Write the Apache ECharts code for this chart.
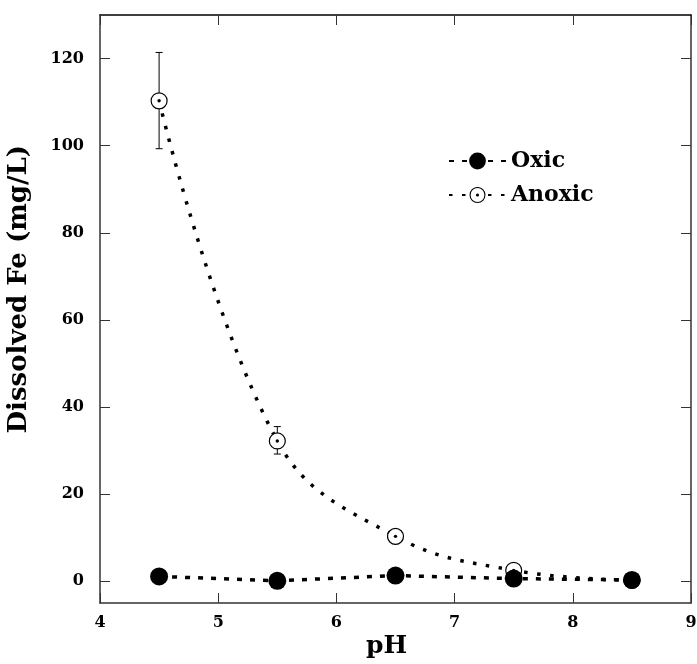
<!DOCTYPE html>
<html>
<head>
<meta charset="utf-8">
<script src="https://cdn.jsdelivr.net/npm/echarts@6/dist/echarts.min.js"></script>
<style>
  html, body { margin: 0; padding: 0; background: #fff; }
  #main { width: 697px; height: 664px; }
</style>
</head>
<body>
<div id="main"></div>
<script>
// pH points
var phValues = [4.5, 5.5, 6.5, 7.5, 8.5]
// dissolved Fe (mg/L)
var oxicFe = [1.1, 0.1, 1.3, 0.6, 0.3]
var anoxicFe = [110.3, 32.2, 10.3, 2.5, 0.2]
// anoxic error bars (low, high)
var anoxicLow = [99.3, 29.2, 9.3, 2.0, 0.1]
var anoxicHigh = [121.4, 35.5, 11.3, 3.0, 0.3]
// tick labels
var xTicks = [4, 5, 6, 7, 8, 9]
var yTicks = [0, 20, 40, 60, 80, 100, 120]

var fontFam = '"DejaVu Serif", serif'
var axisColor = '#333'

// open circle with a dot in the middle
var openCircle = 'image://data:image/svg+xml;utf8,' + encodeURIComponent(
  '<svg xmlns="http://www.w3.org/2000/svg" width="36" height="36" viewBox="0 0 36 36">' +
  '<circle cx="18" cy="18" r="16" fill="#fff" stroke="#000" stroke-width="2.4"/>' +
  '<circle cx="18" cy="18" r="3.4" fill="#000"/></svg>')

function pairs (xs, ys) {
  return xs.map(function (x, i) { return [x, ys[i]] })
}

var errData = phValues.map(function (x, i) { return [x, anoxicLow[i], anoxicHigh[i]] })

var chart = echarts.init(document.getElementById('main'))
var option = {
  animation: false,
  grid: { left: 100, right: 6, top: 15, bottom: 61, outerBoundsMode: 'none' },
  legend: {
    data: ['Oxic', 'Anoxic'],
    orient: 'vertical',
    left: 443,
    top: 145,
    itemWidth: 57,
    itemHeight: 21,
    itemGap: 12,
    textStyle: { fontFamily: fontFam, fontWeight: 'bold', fontSize: 22, color: '#000' }
  },
  xAxis: [
    {
      type: 'value', min: 4, max: 9, interval: 1,
      axisLine: { show: true, onZero: false, lineStyle: { color: axisColor, width: 1.5 } },
      axisTick: { show: true, inside: true, length: 10, lineStyle: { color: axisColor, width: 1 } },
      axisLabel: {
        margin: 12, color: '#000', fontFamily: fontFam, fontWeight: 'bold', fontSize: 16,
        formatter: function (v) { return xTicks.indexOf(v) >= 0 ? String(v) : '' }
      },
      splitLine: { show: false }
    },
    {
      type: 'value', min: 4, max: 9, interval: 1, position: 'top',
      axisLine: { show: true, onZero: false, lineStyle: { color: '#000', width: 1.5 } },
      axisTick: { show: true, inside: true, length: 10, lineStyle: { color: axisColor, width: 1 } },
      axisLabel: { show: false },
      splitLine: { show: false }
    }
  ],
  yAxis: [
    {
      type: 'value', min: -5, max: 130,
      axisLine: { show: true, onZero: false, lineStyle: { color: axisColor, width: 1.5 } },
      axisTick: { show: true, inside: true, length: 10, customValues: yTicks, lineStyle: { color: axisColor, width: 1 } },
      axisLabel: {
        margin: 16, color: '#000', fontFamily: fontFam, fontWeight: 'bold', fontSize: 16,
        customValues: yTicks
      },
      splitLine: { show: false }
    },
    {
      type: 'value', min: -5, max: 130, position: 'right',
      axisLine: { show: true, onZero: false, lineStyle: { color: axisColor, width: 1.5 } },
      axisTick: { show: true, inside: true, length: 10, customValues: yTicks, lineStyle: { color: axisColor, width: 1 } },
      axisLabel: { show: false },
      splitLine: { show: false }
    }
  ],
  graphic: [
    {
      type: 'text', left: 6, top: 145,
      rotation: Math.PI / 2,
      style: {
        text: 'Dissolved Fe (mg/L)', fill: '#000',
        font: 'bold 26px ' + fontFam
      }
    },
    {
      type: 'text', left: 366, top: 634,
      style: { text: 'pH', fill: '#000', font: 'bold 25px ' + fontFam }
    }
  ],
  series: [
    {
      name: 'Oxic',
      type: 'line',
      data: pairs(phValues, oxicFe),
      symbol: 'circle',
      symbolSize: 18,
      itemStyle: { color: '#000' },
      lineStyle: { color: '#000', width: 3.5, type: [5, 8] },
      z: 3
    },
    {
      name: 'AnoxicErr',
      type: 'custom',
      data: errData,
      renderItem: function (params, api) {
        var top = api.coord([api.value(0), api.value(2)])
        var bot = api.coord([api.value(0), api.value(1)])
        var cap = 3.5
        var st = { stroke: '#000', lineWidth: 1 }
        return {
          type: 'group',
          children: [
            { type: 'line', shape: { x1: top[0], y1: top[1], x2: bot[0], y2: bot[1] }, style: st },
            { type: 'line', shape: { x1: top[0] - cap, y1: top[1], x2: top[0] + cap, y2: top[1] }, style: st },
            { type: 'line', shape: { x1: bot[0] - cap, y1: bot[1], x2: bot[0] + cap, y2: bot[1] }, style: st }
          ]
        }
      },
      z: 1
    },
    {
      name: 'Anoxic',
      type: 'line',
      data: pairs(phValues, anoxicFe),
      smooth: 0.4,
      symbol: openCircle,
      symbolSize: 18,
      itemStyle: { color: '#000' },
      lineStyle: { color: '#000', width: 3.5, type: [3.5, 9.5] },
      z: 2
    }
  ]
}
chart.setOption(option)
</script>
</body>
</html>
